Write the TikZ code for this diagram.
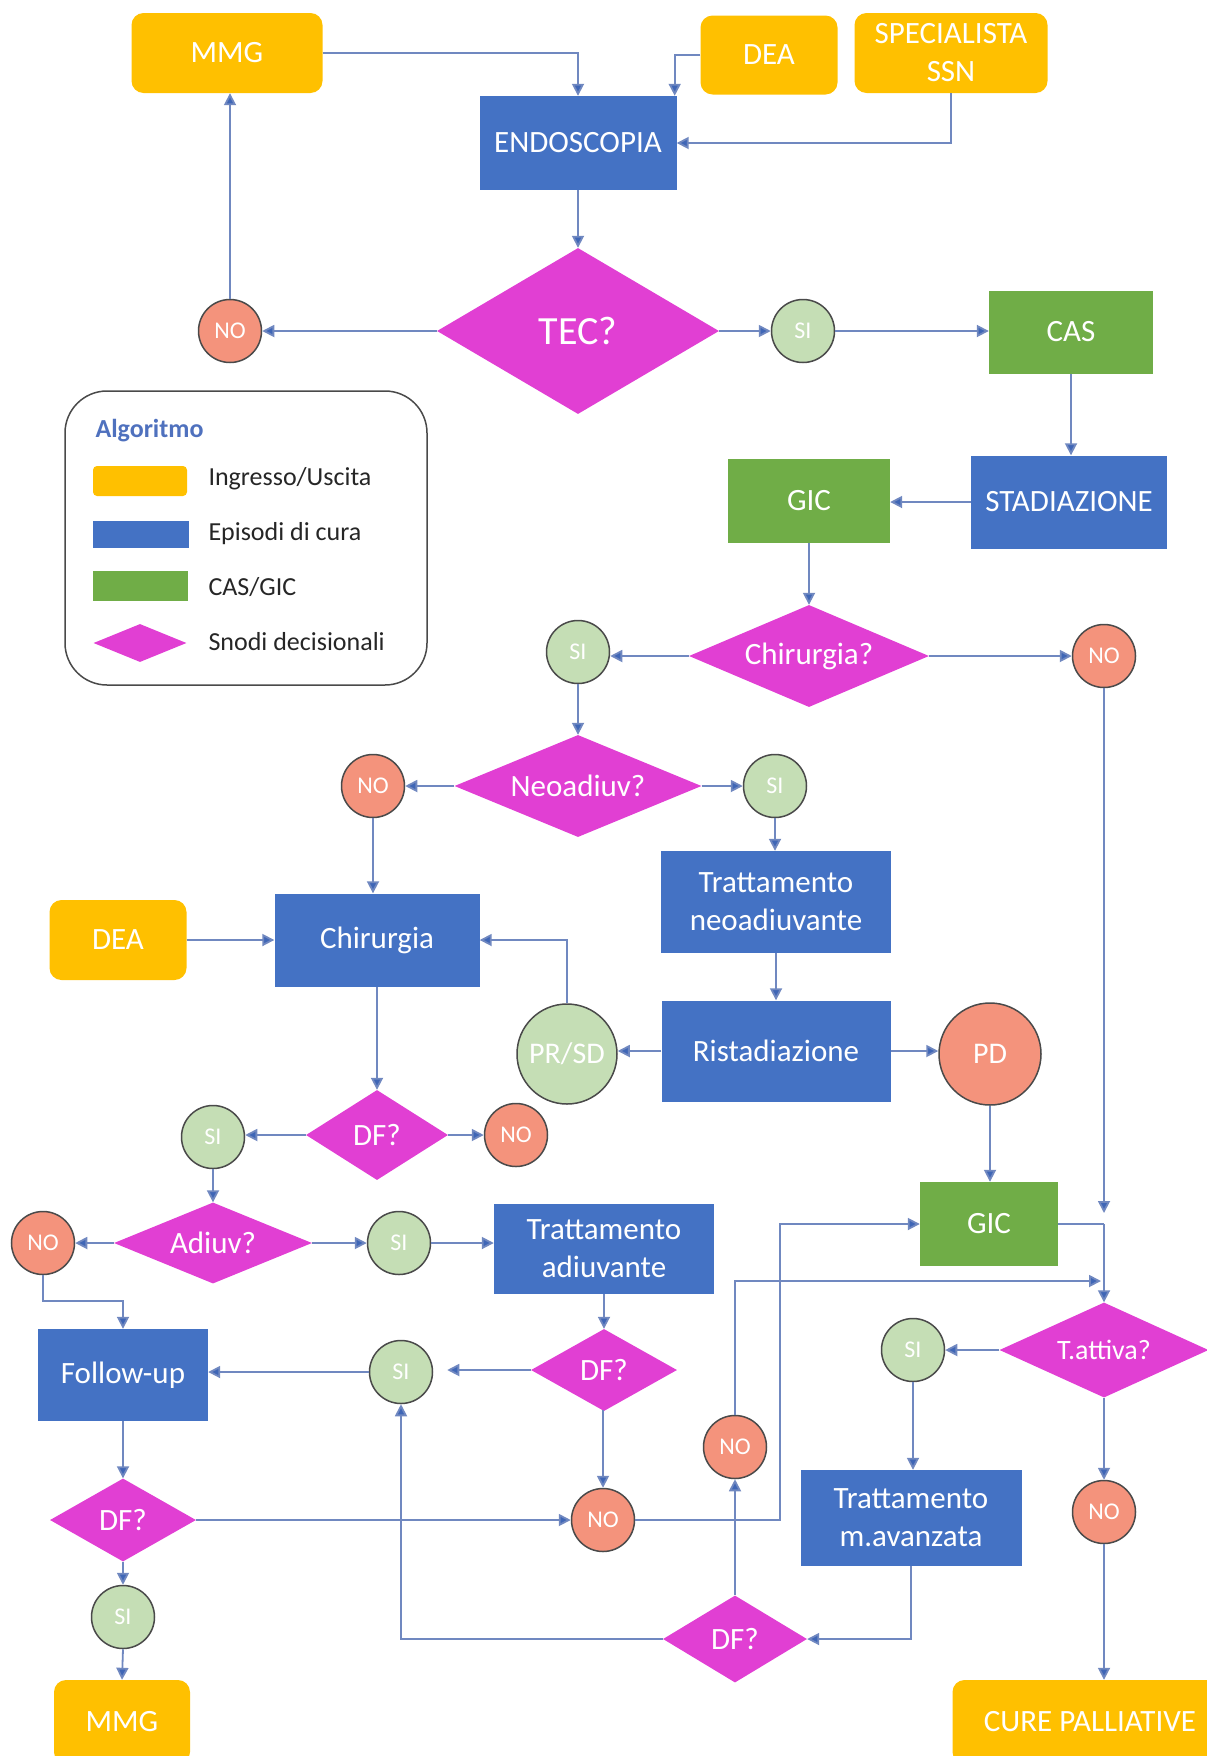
\documentclass[tikz,border=0pt]{standalone}
\usepackage{fontspec}
\setmainfont{Carlito}
\usetikzlibrary{shapes.geometric,arrows.meta,calc}
\definecolor{ioorange}{HTML}{FFC000}
\definecolor{careblue}{HTML}{4472C4}
\definecolor{casgreen}{HTML}{70AD47}
\definecolor{decmag}{HTML}{E13FD3}
\definecolor{nored}{HTML}{F4937C}
\definecolor{sigreen}{HTML}{C5DEB5}
\definecolor{ringcol}{HTML}{4A4A4A}
\definecolor{linecol}{HTML}{7088C0}
\definecolor{tipcol}{HTML}{3F66B6}
\definecolor{legtext}{HTML}{262626}
\definecolor{legtitle}{HTML}{4F71BE}
\begin{document}
\begin{tikzpicture}[x=1pt,y=-1pt,
  every node/.style={text=white, align=center},
  bigfont/.style={font=\fontsize{31}{38}\selectfont},
  io/.style={bigfont, fill=ioorange, rounded corners=12pt, inner sep=0pt},
  care/.style={bigfont, fill=careblue, inner sep=0pt},
  cas/.style={bigfont, fill=casgreen, inner sep=0pt},
  dec/.style={bigfont, diamond, fill=decmag, inner sep=0pt, aspect=2.3},
  nocirc/.style={circle, fill=nored, draw=ringcol, line width=1.5pt, minimum size=63pt, inner sep=0pt, font=\fontsize{24}{26}\selectfont},
  sicirc/.style={circle, fill=sigreen, draw=ringcol, line width=1.5pt, minimum size=63pt, inner sep=0pt, font=\fontsize{24}{26}\selectfont},
  arr/.style={draw=linecol, line width=1.8pt, -{Triangle[length=12pt,width=12pt,fill=tipcol]}},
  ln/.style={draw=linecol, line width=1.8pt},
  legtxt/.style={text=legtext, anchor=west, font=\fontsize{26}{30}\selectfont}
]
\useasboundingbox (0,0) rectangle (1207,1756);
\clip (0,0) rectangle (1207,1756);

% ---------- top row ----------
\node[io, minimum width=191pt, minimum height=80pt] (MMGa) at (227,53) {MMG};
\node[io, minimum width=137pt, minimum height=79pt] (DEAa) at (769,55) {DEA};
\node[io, minimum width=193pt, minimum height=80pt] (SPEC) at (951,53) {SPECIALISTA\\SSN};
\node[care, minimum width=197pt, minimum height=94pt] (ENDO) at (578,143) {ENDOSCOPIA};
\node[dec, minimum width=282pt, minimum height=166pt, aspect=1.7, font=\fontsize{40}{44}\selectfont] (TEC) at (578,331) {TEC?};
\node[nocirc] (NOa) at (230,331) {NO};
\node[sicirc] (SIa) at (803,331) {SI};
\node[cas, minimum width=164pt, minimum height=83pt] (CAS) at (1071,332) {CAS};
\node[care, minimum width=196pt, minimum height=93pt] (STAD) at (1069,502) {STADIAZIONE};
\node[cas, minimum width=162pt, minimum height=84pt] (GICa) at (809,501) {GIC};

% ---------- legend ----------
\draw[draw=ringcol, line width=1.5pt, rounded corners=42pt] (65,391) rectangle (427,685);
\node[anchor=west, text=legtitle, font=\bfseries\fontsize{26}{30}\selectfont] (legT) at (92,431) {Algoritmo};
\node[fill=ioorange, rounded corners=4pt, minimum width=94pt, minimum height=30pt, inner sep=0pt] (legA) at (140,481) {};
\node[fill=careblue, minimum width=96pt, minimum height=27pt, inner sep=0pt] (legB) at (141,534) {};
\node[fill=casgreen, minimum width=95pt, minimum height=30pt, inner sep=0pt] (legC) at (140,586) {};
\node[diamond, fill=decmag, minimum width=93pt, minimum height=38pt, inner sep=0pt, aspect=2.4] (legD) at (140,643) {};
\node[legtxt] (legAt) at (205,479) {Ingresso/Uscita};
\node[legtxt] (legBt) at (205,534) {Episodi di cura};
\node[legtxt] (legCt) at (205,587) {CAS/GIC};
\node[legtxt] (legDt) at (205,642) {Snodi decisionali};

% ---------- chirurgia decision ----------
\node[dec, minimum width=240pt, minimum height=102pt, aspect=2.35] (CHQ) at (809,656) {Chirurgia?};
\node[sicirc] (SIb) at (578,652) {SI};
\node[nocirc] (NOb) at (1104,656) {NO};
\node[dec, minimum width=247pt, minimum height=102pt, aspect=2.4] (NEQ) at (578,786) {Neoadiuv?};
\node[nocirc] (NOc) at (373,786) {NO};
\node[sicirc] (SIc) at (775,786) {SI};
\node[care, minimum width=230pt, minimum height=102pt] (TNEO) at (776,902) {Trattamento\\neoadiuvante};
\node[care, minimum width=205pt, minimum height=93pt] (CHIR) at (377,940) {Chirurgia};
\node[io, minimum width=137pt, minimum height=80pt] (DEAb) at (118,940) {DEA};
\node[care, minimum width=229pt, minimum height=101pt] (RIST) at (776,1051) {Ristadiazione};
\node[sicirc, minimum size=100pt, font=\fontsize{30}{34}\selectfont] (PRSD) at (567,1054) {PR/SD};
\node[nocirc, minimum size=102pt, font=\fontsize{30}{34}\selectfont] (PD) at (990,1054) {PD};

% ---------- post surgery ----------
\node[dec, minimum width=142pt, minimum height=90pt, aspect=1.7] (DFa) at (377,1135) {DF?};
\node[sicirc] (SId) at (213,1137) {SI};
\node[nocirc] (NOd) at (516,1135) {NO};
\node[dec, minimum width=198pt, minimum height=81pt, aspect=2.4] (ADQ) at (213,1243) {Adiuv?};
\node[nocirc] (NOe) at (43,1243) {NO};
\node[sicirc] (SIe) at (399,1243) {SI};
\node[care, minimum width=220pt, minimum height=90pt] (TADI) at (604,1249) {Trattamento\\adiuvante};
\node[cas, minimum width=138pt, minimum height=84pt] (GICb) at (989,1224) {GIC};
\node[dec, minimum width=209pt, minimum height=95pt, aspect=2.2, font=\fontsize{28}{32}\selectfont] (TAQ) at (1104,1350) {T.attiva?};
\node[sicirc] (SIf) at (913,1350) {SI};
\node[care, minimum width=170pt, minimum height=92pt] (FUP) at (123,1375) {Follow-up};
\node[sicirc] (SIg) at (401,1372) {SI};
\node[dec, minimum width=146pt, minimum height=82pt, aspect=1.8] (DFb) at (604,1370) {DF?};
\node[nocirc] (NOf) at (735,1447) {NO};
\node[nocirc] (NOg) at (1104,1512) {NO};
\node[care, minimum width=221pt, minimum height=96pt] (TMAV) at (911,1518) {Trattamento\\m.avanzata};
\node[dec, minimum width=146pt, minimum height=83pt, aspect=1.8] (DFc) at (123,1520) {DF?};
\node[nocirc] (NOh) at (603,1520) {NO};
\node[sicirc] (SIh) at (123,1617) {SI};
\node[dec, minimum width=144pt, minimum height=87pt, aspect=1.7] (DFd) at (735,1639) {DF?};
\node[io, minimum width=136pt, minimum height=84pt] (MMGb) at (122,1722) {MMG};
\node[io, minimum width=275pt, minimum height=84pt] (CURE) at (1090,1722) {CURE PALLIATIVE};

% ---------- helper coordinates ----------
\coordinate (jA) at (1104,1213);
\coordinate (jB) at (1104,1224);
\coordinate (jC) at (1101,1281);
\coordinate (bendA) at (780,1224);
\coordinate (bendB) at (43,1301);

% ---------- connectors ----------
\draw[arr] (MMGa.east) -| (ENDO.north);
\draw[arr] (DEAa.west) -| ([xshift=-2pt]ENDO.north east);
\draw[arr] (SPEC.south) |- (ENDO.east);
\draw[arr] (ENDO.south) -- (TEC.north);
\draw[arr] (TEC.west) -- (NOa.east);
\draw[arr] (NOa.north) -- (NOa.north |- MMGa.south);
\draw[arr] (TEC.east) -- (SIa.west);
\draw[arr] (SIa.east) -- (SIa.east -| CAS.west);
\draw[arr] (CAS.south) -- (CAS.south |- STAD.north);
\draw[arr] (STAD.west) -- (STAD.west -| GICa.east);
\draw[arr] (GICa.south) -- (CHQ.north);
\draw[arr] (CHQ.west) -- (CHQ.west -| SIb.east);
\draw[arr] (CHQ.east) -- (NOb.west);
\draw[arr] (SIb.south) -- (NEQ.north);
\draw[arr] (NEQ.west) -- (NOc.east);
\draw[arr] (NEQ.east) -- (SIc.west);
\draw[arr] (NOc.south) -- (NOc.south |- CHIR.north);
\draw[arr] (SIc.south) -- (SIc.south |- TNEO.north);
\draw[arr] (DEAb.east) -- (CHIR.west);
\draw[arr] (TNEO.south) -- (RIST.north);
\draw[arr] (RIST.west) -- (RIST.west -| PRSD.east);
\draw[arr] (PRSD.north) |- (CHIR.east);
\draw[arr] (RIST.east) -- (RIST.east -| PD.west);
\draw[arr] (CHIR.south) -- (DFa.north);
\draw[arr] (DFa.west) -- (DFa.west -| SId.east);
\draw[arr] (DFa.east) -- (NOd.west);
\draw[arr] (SId.south) -- (ADQ.north);
\draw[arr] (ADQ.west) -- (NOe.east);
\draw[arr] (ADQ.east) -- (SIe.west);
\draw[arr] (SIe.east) -- (SIe.east -| TADI.west);
\draw[arr] (PD.south) -- (PD.south |- GICb.north);
\draw[arr] (NOb.south) -- (jA);
\draw[ln] (GICb.east) -- (jB);
\draw[arr] (jB) -- (TAQ.north);
\draw[arr] (NOf.north) |- (jC);
\draw[arr] (NOh.east) -| (bendA) -- (GICb.west);
\draw[arr] (TAQ.west) -- (SIf.east);
\draw[arr] (TAQ.south) -- (NOg.north);
\draw[arr] (NOg.south) -- (NOg.south |- CURE.north);
\draw[arr] (SIf.south) -- (SIf.south |- TMAV.north);
\draw[arr] (TMAV.south) |- (DFd.east);
\draw[arr] (DFd.west) -| (SIg.south);
\draw[arr] (DFd.north) -- (NOf.south);
\draw[arr] (TADI.south) -- (DFb.north);
\draw[arr] (DFb.west) -- ([xshift=14pt]DFb.west -| SIg.east);
\draw[arr] (SIg.west) -- (SIg.west -| FUP.east);
\draw[arr] (DFb.south) -- (DFb.south -| NOh.north) -- (NOh.north);
\draw[arr] (NOe.south) -- (bendB) -| (FUP.north);
\draw[arr] (FUP.south) -- (DFc.north);
\draw[arr] (DFc.east) -- (NOh.west);
\draw[arr] (DFc.south) -- (SIh.north);
\draw[arr] (SIh.south) -- (MMGb.north);
\end{tikzpicture}
\end{document}
